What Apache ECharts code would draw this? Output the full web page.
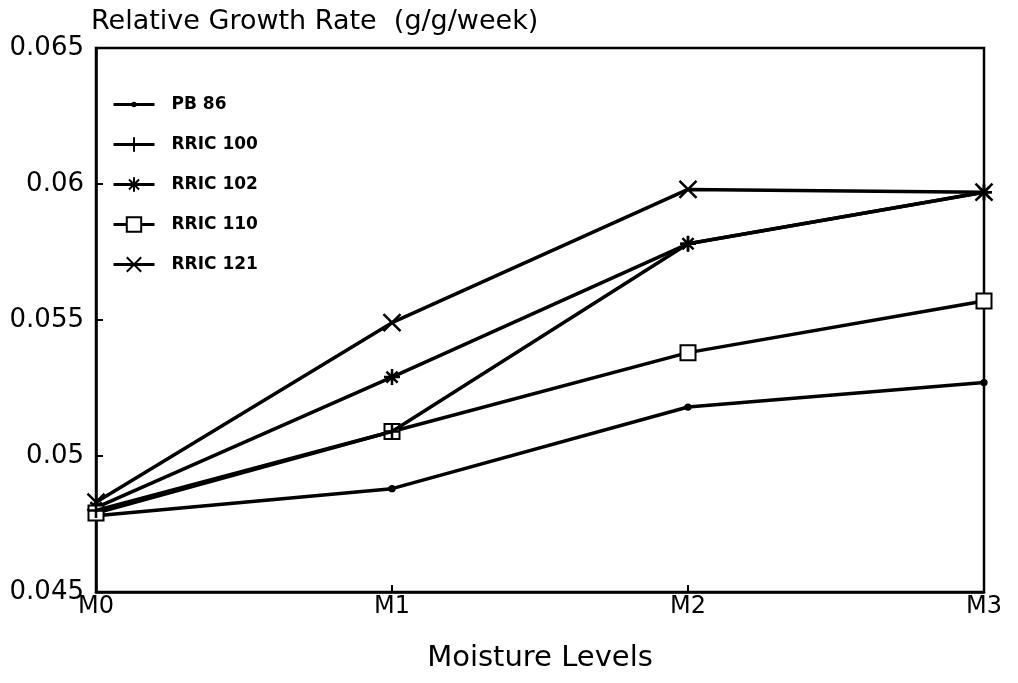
<!DOCTYPE html>
<html>
<head>
<meta charset="utf-8">
<script src="https://cdn.jsdelivr.net/npm/echarts@6/dist/echarts.min.js"></script>
<style>
    html, body { margin: 0; padding: 0; background: #fff; }
    #chart { width: 1018px; height: 683px; }
</style>
</head>
<body>
<div id="chart"></div>
<script>
    // moisture levels on the x axis
    var levels = ['M0', 'M1', 'M2', 'M3'];
    // relative growth rate per clone (g/g/week)
    var pb86 = [0.0478, 0.0488, 0.0518, 0.0527];
    var rric100 = [0.0480, 0.0509, 0.0578, 0.0597];
    var rric102 = [0.0481, 0.0529, 0.0578, 0.0597];
    var rric110 = [0.0479, 0.0509, 0.0538, 0.0557];
    var rric121 = [0.0483, 0.0549, 0.0598, 0.0597];

    var font = 'DejaVu Sans, Verdana, sans-serif';

    // marker shapes, drawn as strokes
    // small dot padded inside a 10x10 box so the legend keeps it small
    var dotSym = 'path://M0,0M10,10M3.8,5a1.2,1.2 0 1,0 2.4,0a1.2,1.2 0 1,0 -2.4,0z';
    var plusSym = 'path://M5,0L5,10M0,5L10,5';
    var starSym = 'path://M5,0L5,10M0,5L10,5M1.5,1.5L8.5,8.5M8.5,1.5L1.5,8.5';
    var crossSym = 'path://M0,0L10,10M10,0L0,10';

    function makeSeries(name, data, symbol, size, z) {
        return {
            name: name,
            type: 'line',
            data: data,
            symbol: symbol,
            symbolSize: size,
            z: z || 2,
            lineStyle: { color: '#000', width: 3.5 },
            itemStyle: { color: '#000', borderColor: '#000', borderWidth: 2.5 }
        };
    }

    var myChart = echarts.init(document.getElementById('chart'));
    myChart.setOption({
        animation: false,
        title: {
            text: 'Relative Growth Rate  (g/g/week)',
            left: 86,
            top: 3,
            textStyle: { fontFamily: font, fontSize: 27, fontWeight: 'normal', color: '#000' }
        },
        legend: {
            orient: 'vertical',
            left: 107,
            top: 91,
            itemWidth: 41,
            itemHeight: 18,
            itemGap: 23,
            lineStyle: { width: 3 },
            textStyle: { fontFamily: font, fontSize: 17, fontWeight: 'bold', color: '#000', padding: [0, 0, 0, 12] },
            data: ['PB 86', 'RRIC 100', 'RRIC 102', 'RRIC 110', 'RRIC 121']
        },
        grid: {
            left: 96,
            right: 34,
            top: 48,
            bottom: 91,
            show: true,
            borderColor: '#000',
            borderWidth: 2.5
        },
        xAxis: {
            type: 'category',
            data: levels,
            boundaryGap: false,
            name: 'Moisture Levels',
            nameLocation: 'middle',
            nameGap: 52,
            nameTextStyle: { fontFamily: font, fontSize: 29, color: '#000' },
            axisLine: { lineStyle: { color: '#000', width: 2.5 } },
            axisTick: { inside: true, length: 7, lineStyle: { color: '#000', width: 2 } },
            axisLabel: { fontFamily: font, fontSize: 24, color: '#000', margin: 3 },
            splitLine: { show: false }
        },
        yAxis: {
            type: 'value',
            min: 0.045,
            max: 0.065,
            interval: 0.005,
            axisLine: { show: true, lineStyle: { color: '#000', width: 2.5 } },
            axisTick: { show: true, inside: true, length: 7, lineStyle: { color: '#000', width: 2 } },
            axisLabel: { fontFamily: font, fontSize: 26, color: '#000', margin: 12 },
            splitLine: { show: false }
        },
        series: [
            makeSeries('PB 86', pb86, dotSym, 20),
            makeSeries('RRIC 100', rric100, plusSym, 15, 4),
            makeSeries('RRIC 102', rric102, starSym, 16),
            makeSeries('RRIC 110', rric110, 'emptyRect', 15, 3),
            makeSeries('RRIC 121', rric121, crossSym, 17)
        ]
    });
</script>
</body>
</html>
